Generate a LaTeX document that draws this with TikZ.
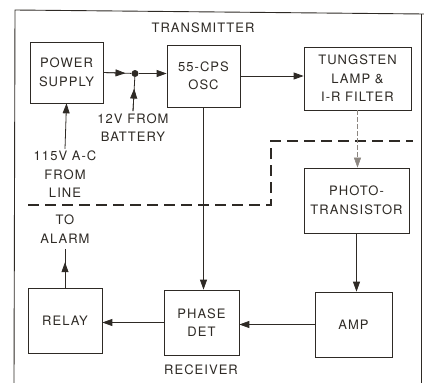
\documentclass[tikz,border=0pt]{standalone}
\usepackage{fontspec}
\newfontfamily\lettering[LetterSpace=8]{TeX Gyre Heros}
\usetikzlibrary{arrows.meta,calc}
\definecolor{inkdark}{HTML}{2E2A25}
\definecolor{beamgrey}{HTML}{8C8680}
\tikzset{
  blockbox/.style={draw=inkdark,line width=0.7pt,align=center,inner sep=0pt,text=inkdark},
  tag/.style={align=center,inner sep=2pt,text=inkdark},
  wire/.style={draw=inkdark,line width=0.8pt},
  conn/.style={wire,-{Triangle[length=10pt,width=7pt]}},
  beam/.style={draw=beamgrey,line width=0.6pt,dash pattern=on 5pt off 2pt,-{Triangle[length=10pt,width=7pt]}},
  shield/.style={draw=inkdark,line width=1.6pt,dash pattern=on 11pt off 6pt}
}

\begin{document}
\begin{tikzpicture}[x=1pt,y=-1pt,font=\lettering\fontsize{13}{18.5}\selectfont]
\useasboundingbox (0,0) rectangle (424,383);
% outer frame
\draw[inkdark,line width=0.9pt] (14,383) -- (15,10) -- (424,14);
\draw[inkdark,line width=0.9pt] (421,14) -- (421,383);

% transmitter side
\node[tag] (xmtr) at (203,28) {TRANSMITTER};
\node[blockbox,minimum width=73pt,minimum height=61pt] (psu) at (66.5,72.5) {POWER\\SUPPLY};
\node[blockbox,minimum width=73pt,minimum height=62pt] (osc) at (203.5,76) {55-CPS\\OSC};
\node[blockbox,minimum width=107pt,minimum height=63pt] (lamp) at (357.5,78.5) {TUNGSTEN\\LAMP \&\\I-R FILTER};
\node[circle,fill=inkdark,inner sep=0pt,minimum size=7pt] (junc) at (135,73.5) {};
\node[tag] (batt) at (133,127.5) {12V FROM\\BATTERY};
\node[tag] (mains) at (65,174.5) {115V A-C\\FROM\\LINE};

% receiver side
\node[blockbox,minimum width=105pt,minimum height=65pt] (photo) at (356.5,200.5) {PHOTO-\\TRANSISTOR};
\node[blockbox,minimum width=77pt,minimum height=65pt] (amp) at (353.5,324.5) {AMP};
\node[blockbox,minimum width=75pt,minimum height=65pt] (det) at (201.5,322.5) {PHASE\\DET};
\node[blockbox,minimum width=74pt,minimum height=65pt] (relay) at (65,320.5) {RELAY};
\node[tag] (alarm) at (65,229) {TO\\ALARM};
\node[tag] (rcvr) at (201,370) {RECEIVER};

% light-tight partition
\draw[shield] (28,205) -- (271,205) -- (271,141) -- (413,141);

% connections
\draw[wire] (psu.east) -- (junc);
\draw[conn] (psu.east) -- ($(psu.east)!0.7!(junc)$);
\draw[conn] (junc) -- (junc -| osc.west);
\draw[wire] (batt.north) -- (junc);
\draw[conn] (batt.north) -- ($(batt.north)!0.6!(junc)$);
\draw[conn] (mains.north) -- (psu.south);
\draw[conn] (osc.east) -- (osc.east -| lamp.west);
\draw[beam] (lamp.south) -- (lamp.south |- photo.north);
\draw[conn] (photo.south) -- (photo.south |- amp.north);
\draw[conn] (amp.west) -- (amp.west -| det.east);
\draw[conn] (det.west) -- (det.west -| relay.east);
\draw[conn] (osc.south) -- (osc.south |- det.north);
\draw[wire,shorten >=4pt] (relay.north) -- (alarm.south);
\draw[conn] (relay.north) -- ($(relay.north)!0.6!(alarm.south)$);
\end{tikzpicture}
\end{document}
